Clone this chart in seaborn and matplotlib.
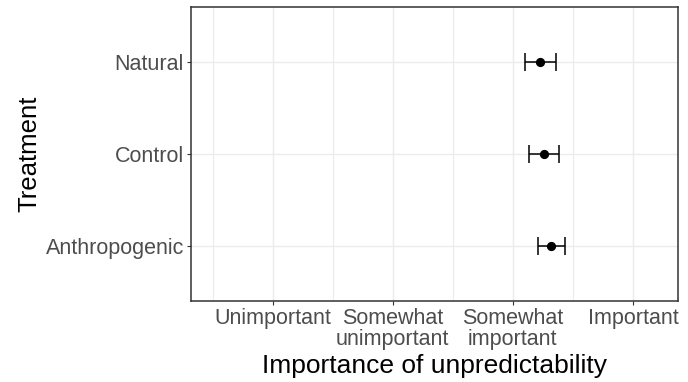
import matplotlib
matplotlib.use("Agg")
import matplotlib.pyplot as plt
import seaborn as sns
import pandas as pd
import numpy as np
from matplotlib.ticker import FixedLocator

treatments = ["Natural", "Control", "Anthropogenic"]
means = [3.225, 3.261, 3.317]
lower = [3.100, 3.136, 3.206]
upper = [3.358, 3.386, 3.433]
x_ticks = [1, 2, 3, 4]
x_labels = ["Unimportant", "Somewhat\nunimportant", "Somewhat\nimportant", "Important"]

df = pd.DataFrame({"treatment": treatments, "mean": means, "lo": lower, "hi": upper})

sns.set_theme(style="white")
plt.rcParams["font.family"] = ["Liberation Sans", "DejaVu Sans"]

fig = plt.figure(figsize=(6.88, 3.82), dpi=100)
ax = fig.add_axes([191 / 688, 1 - 301 / 382, (678 - 191) / 688, (301 - 7.3) / 382])

sns.pointplot(data=df, x="mean", y="treatment", order=treatments,
              linestyle="none", color="black", markers="o", ax=ax,
              markersize=4.6, errorbar=None)
ypos = np.arange(len(treatments))
ax.errorbar(df["mean"], ypos,
            xerr=[df["mean"] - df["lo"], df["hi"] - df["mean"]],
            fmt="none", ecolor="black", elinewidth=1.1, capsize=6.5, capthick=1.1, zorder=3)

ax.set_xlim(0.32, 4.375)
ax.set_ylim(len(treatments) - 1 + 0.6, -0.6)
ax.set_xticks(x_ticks)
ax.set_xticklabels(x_labels, linespacing=1.02)
ax.xaxis.set_minor_locator(FixedLocator([0.5, 1.5, 2.5, 3.5, 4.5]))

ax.grid(True, which="major", color="#EBEBEB", linewidth=1.0)
ax.grid(True, which="minor", axis="x", color="#EBEBEB", linewidth=0.8)
ax.set_axisbelow(True)
for s in ax.spines.values():
    s.set_color("#333333")
    s.set_linewidth(1.1)

ax.tick_params(axis="both", which="major", length=3.0, width=0.8, color="#333333",
               labelsize=15.5, labelcolor="#4D4D4D", pad=2, bottom=True, left=True)
ax.tick_params(axis="both", which="minor", length=0)
ax.set_xlabel("Importance of unpredictability", fontsize=19, color="black", labelpad=3)
ax.set_ylabel("Treatment", fontsize=18.5, color="black", labelpad=3)

fig.savefig("out.png", dpi=100)
